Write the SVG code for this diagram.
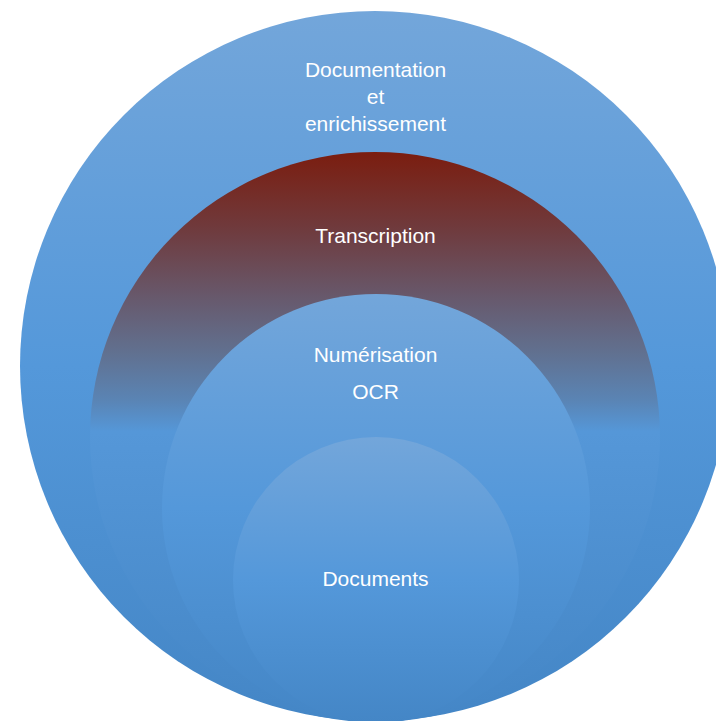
<svg xmlns="http://www.w3.org/2000/svg" width="716" height="721" viewBox="0 0 716 721">
<defs>
<linearGradient id="gBlue" x1="0" y1="0" x2="0" y2="1">
<stop offset="0" stop-color="#73a6da"/>
<stop offset="0.5" stop-color="#5498da"/>
<stop offset="1" stop-color="#4486c6"/>
</linearGradient>
<linearGradient id="gRed" x1="0" y1="0" x2="0" y2="1">
<stop offset="0" stop-color="#7b1d0f"/>
<stop offset="0.137" stop-color="#6f3b3e"/>
<stop offset="0.26" stop-color="#675a6e"/>
<stop offset="0.35" stop-color="#61708f"/>
<stop offset="0.435" stop-color="#5a84b4"/>
<stop offset="0.49" stop-color="#5597d8"/>
<stop offset="1" stop-color="#4486c6"/>
</linearGradient>
</defs>
<style>
.lbl{font-family:"Liberation Sans",Arial,sans-serif;font-size:21px;fill:#ffffff;text-anchor:middle}
</style>
<rect width="716" height="721" fill="#ffffff"/>
<g id="documentation">
<circle cx="375" cy="366" r="355" fill="url(#gBlue)"/>
<text class="lbl" x="375.5" y="77">Documentation</text>
<text class="lbl" x="375.5" y="104">et</text>
<text class="lbl" x="375.5" y="131">enrichissement</text>
</g>
<g id="transcription">
<circle cx="375" cy="437" r="285" fill="url(#gRed)"/>
<text class="lbl" x="375.5" y="243">Transcription</text>
</g>
<g id="numerisation">
<circle cx="376" cy="508" r="214" fill="url(#gBlue)"/>
<text class="lbl" x="375.5" y="362">Numérisation</text>
<text class="lbl" x="375.5" y="399">OCR</text>
</g>
<g id="documents">
<circle cx="376" cy="580" r="143" fill="url(#gBlue)"/>
<text class="lbl" x="375.5" y="586">Documents</text>
</g>
<g id="connectors"/>
</svg>
